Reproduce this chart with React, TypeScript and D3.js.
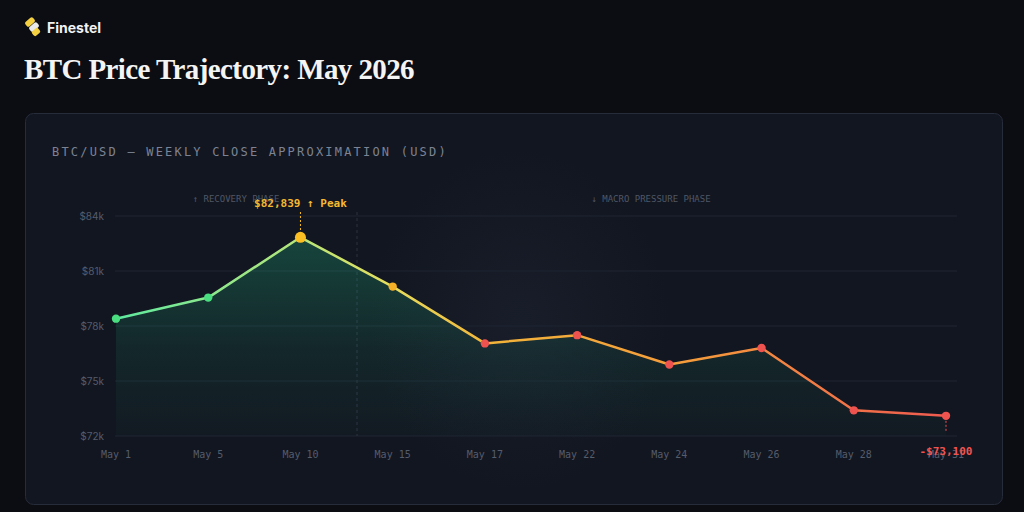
import React from "react";
import * as d3 from "d3";

const categories = ["May 1", "May 5", "May 10", "May 15", "May 17", "May 22", "May 24", "May 26", "May 28", "May 31"];
const prices = [78400, 79550, 82839, 80150, 77050, 77500, 75900, 76800, 73400, 73100];
const pointColors = ["#4ade80", "#4ade80", "#fbbf24", "#f5b027", "#ef5350", "#ef5350", "#ef5350", "#ef5350", "#ef5350", "#ef5350"];
const yTicks = [72000, 75000, 78000, 81000, 84000];

const W = 1024;
const H = 512;

export default function App() {
  const x = d3.scalePoint<string>().domain(categories).range([116, 946]);
  const y = d3.scaleLinear().domain([72000, 84000]).range([436, 216]);
  const gridX0 = 115;
  const gridX1 = 957;

  const line = d3
    .line<number>()
    .x((_, i) => x(categories[i]) as number)
    .y((d) => y(d));
  const area = d3
    .area<number>()
    .x((_, i) => x(categories[i]) as number)
    .y0(y(72000))
    .y1((d) => y(d));

  const peakIdx = prices.indexOf(d3.max(prices) as number);
  const lastIdx = prices.length - 1;
  const divX = 357;
  const mono = "'DejaVu Sans Mono', 'Liberation Mono', monospace";
  const sans = "Inter, 'Noto Sans', sans-serif";

  return (
    <svg width={W} height={H} style={{ position: "absolute", left: 0, top: 0, display: "block" }}>
      <defs>
        <linearGradient id="lineGrad" x1="116" x2="946" y1="0" y2="0" gradientUnits="userSpaceOnUse">
          <stop offset="0" stopColor="#5eeaa0" />
          <stop offset="0.22" stopColor="#b6e67a" />
          <stop offset="0.33" stopColor="#e6de5e" />
          <stop offset="0.45" stopColor="#f2b43a" />
          <stop offset="0.7" stopColor="#f59a3c" />
          <stop offset="1" stopColor="#ef5a50" />
        </linearGradient>
        <linearGradient id="areaGrad" x1="0" x2="0" y1="216" y2="436" gradientUnits="userSpaceOnUse">
          <stop offset="0" stopColor="#22c58a" stopOpacity="0.3" />
          <stop offset="0.6" stopColor="#22c58a" stopOpacity="0.1" />
          <stop offset="1" stopColor="#22c58a" stopOpacity="0.02" />
        </linearGradient>
        <radialGradient id="bgGlow" cx="0.5" cy="0.5" r="0.5">
          <stop offset="0" stopColor="#1c2230" stopOpacity="0.6" />
          <stop offset="1" stopColor="#1c2230" stopOpacity="0" />
        </radialGradient>
      </defs>
      <rect x={0} y={0} width={W} height={H} fill="#0c0d12" />

      {/* logo */}
      <g>
        <rect x={25} y={19} width={10} height={6} rx={2} fill="#f5d142" transform="rotate(-40 30 22)" />
        <rect x={29} y={24} width={10} height={6} rx={2} fill="#e9e9e9" transform="rotate(-40 34 27)" />
        <rect x={32} y={29} width={8} height={6} rx={2} fill="#f5d142" transform="rotate(-40 36 32)" />
      </g>
      <text x={47} y={33} fill="#f2f2f2" fontFamily={sans} fontWeight={700} fontSize={14}>Finestel</text>
      <text x={24} y={79} fill="#f4f4f4" fontFamily="'Liberation Serif', 'DejaVu Serif', serif" fontWeight={700} fontSize={29} letterSpacing={-0.6}>
        BTC Price Trajectory: May 2026
      </text>

      {/* card */}
      <rect x={25.5} y={113.5} width={977} height={391} rx={8} fill="#121620" stroke="#262c3a" strokeWidth={1} />
      <ellipse cx={520} cy={320} rx={150} ry={170} fill="url(#bgGlow)" />

      <text x={52} y={156} fill="#7c8394" fontFamily={mono} fontSize={12} letterSpacing={2.2}>
        BTC/USD — WEEKLY CLOSE APPROXIMATION (USD)
      </text>

      {/* grid */}
      {yTicks.map((t) => (
        <g key={t}>
          <line x1={gridX0} x2={gridX1} y1={y(t)} y2={y(t)} stroke="#1f2533" strokeWidth={1} />
          <text x={104} y={y(t) + 3.5} textAnchor="end" fill="#555c6c" fontFamily={sans} fontSize={10}>
            {"$" + t / 1000 + "k"}
          </text>
        </g>
      ))}

      {/* phase divider */}
      <line x1={divX} x2={divX} y1={212} y2={436} stroke="#2a3140" strokeWidth={1} strokeDasharray="3,3" />
      <text x={236} y={202} textAnchor="middle" fill="#4f5666" fontFamily={mono} fontSize={9}>↑ RECOVERY PHASE</text>
      <text x={651} y={202} textAnchor="middle" fill="#4f5666" fontFamily={mono} fontSize={9}>↓ MACRO PRESSURE PHASE</text>

      {/* area + line */}
      <path d={area(prices) as string} fill="url(#areaGrad)" />
      <path d={line(prices) as string} fill="none" stroke="url(#lineGrad)" strokeWidth={2.5} strokeLinejoin="round" />

      {/* points */}
      {prices.map((p, i) => (
        <circle key={i} cx={x(categories[i]) as number} cy={y(p)} r={i === peakIdx ? 5.5 : 4.2} fill={pointColors[i]} />
      ))}

      {/* peak annotation */}
      <line x1={x(categories[peakIdx]) as number} x2={x(categories[peakIdx]) as number} y1={212} y2={y(prices[peakIdx]) - 6} stroke="#fbbf24" strokeWidth={1} strokeDasharray="2,2" />
      <text x={(x(categories[peakIdx]) as number) + 0} y={207} textAnchor="middle" fill="#f5b830" fontFamily={mono} fontWeight={700} fontSize={11}>
        {"$" + d3.format(",")(prices[peakIdx]) + " ↑ Peak"}
      </text>

      {/* x labels */}
      {categories.map((c) => (
        <text key={c} x={x(c) as number} y={458} textAnchor="middle" fill="#555c6c" fontFamily={mono} fontSize={10}>
          {c}
        </text>
      ))}

      {/* end annotation */}
      <line x1={x(categories[lastIdx]) as number} x2={x(categories[lastIdx]) as number} y1={y(prices[lastIdx]) + 5} y2={432} stroke="#ef5350" strokeWidth={1} strokeDasharray="2,2" />
      <text x={x(categories[lastIdx]) as number} y={455} textAnchor="middle" fill="#ef5350" fontFamily={mono} fontWeight={700} fontSize={11}>
        {"-$" + d3.format(",")(prices[lastIdx])}
      </text>
    </svg>
  );
}
